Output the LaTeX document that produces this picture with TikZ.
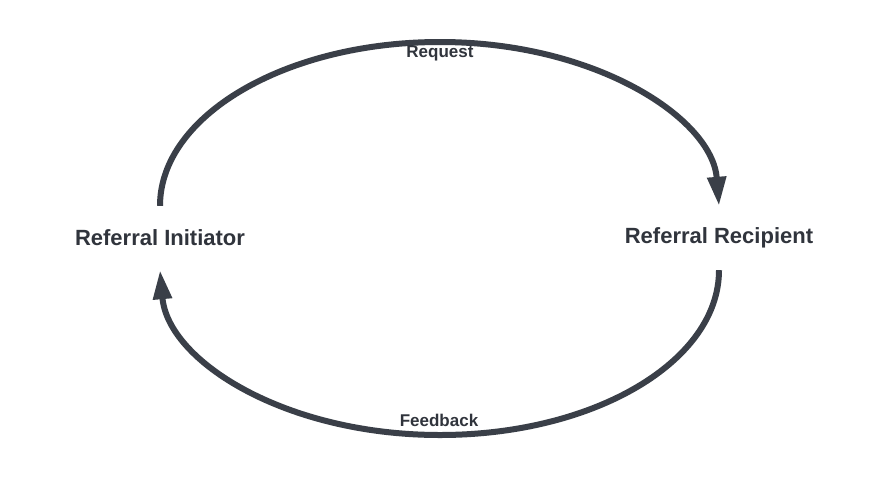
\documentclass[tikz,border=0pt]{standalone}
\usepackage{fontspec}
\setmainfont{Liberation Sans}
\usetikzlibrary{arrows.meta}
\definecolor{ink}{HTML}{3A3F48}
\definecolor{txt}{HTML}{30343C}
\begin{document}
\begin{tikzpicture}[x=1pt,y=-1pt,
  party/.style={font=\bfseries\fontsize{22}{26}\selectfont, text=txt, minimum height=64pt, inner sep=0pt},
  lbl/.style={font=\bfseries\fontsize{17}{20}\selectfont, text=txt, inner sep=0pt},
  flow/.style={draw=ink, line width=6pt, -{Triangle[length=29pt,width=18pt]}}]
\fill[white] (0,0) rectangle (880,477);
\useasboundingbox (0,0) rectangle (880,477);
\node[party] (ini) at (160,238) {Referral Initiator};
\node[party] (rec) at (719,238) {Referral Recipient};
\draw[flow] (ini.north) .. controls (160,116) and (285,42) .. (440,42)
  .. controls (595,42) and (712,118) .. (rec.north);
\draw[flow] (rec.south) .. controls (719,361) and (595,435) .. (440,435)
  .. controls (285,435) and (168,361) .. (ini.south);
\node[lbl] (req) at (440,53.5) {Request};
\node[lbl] (fb) at (439,420) {Feedback};
\end{tikzpicture}
\end{document}
